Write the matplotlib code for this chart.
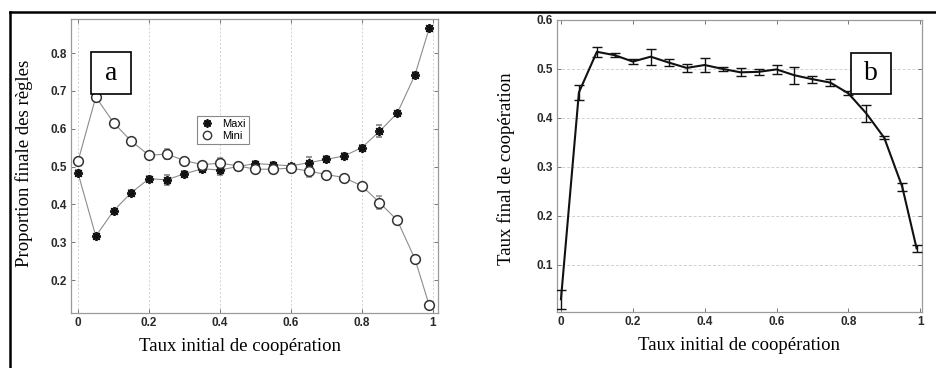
import numpy as np
import matplotlib
matplotlib.use('Agg')
import matplotlib.pyplot as plt
from matplotlib.lines import Line2D
from matplotlib.patches import Rectangle

# taux initial de cooperation
x = [0.0, 0.05, 0.1, 0.15, 0.2, 0.25, 0.3, 0.35, 0.4, 0.45, 0.5,
     0.55, 0.6, 0.65, 0.7, 0.75, 0.8, 0.85, 0.9, 0.95, 0.99]

# panel a
maxi = [0.482, 0.316, 0.383, 0.431, 0.468, 0.465, 0.481, 0.494, 0.491, 0.500, 0.508,
        0.505, 0.502, 0.510, 0.519, 0.528, 0.550, 0.593, 0.641, 0.742, 0.865]
maxi_err = [0.008, 0.005, 0.006, 0.006, 0.006, 0.013, 0.007, 0.008, 0.014, 0.006, 0.007,
            0.006, 0.006, 0.015, 0.008, 0.007, 0.006, 0.016, 0.007, 0.008, 0.006]
mini = [0.515, 0.684, 0.616, 0.567, 0.530, 0.533, 0.516, 0.505, 0.509, 0.502, 0.493,
        0.493, 0.496, 0.488, 0.479, 0.471, 0.449, 0.405, 0.358, 0.256, 0.134]
mini_err = [0.008, 0.005, 0.006, 0.006, 0.006, 0.013, 0.007, 0.008, 0.014, 0.006, 0.007,
            0.006, 0.006, 0.015, 0.008, 0.007, 0.006, 0.016, 0.007, 0.008, 0.006]

# panel b
coop = [0.029, 0.452, 0.535, 0.528, 0.515, 0.525, 0.513, 0.502, 0.508, 0.500, 0.493,
        0.494, 0.499, 0.487, 0.479, 0.472, 0.450, 0.409, 0.359, 0.259, 0.133]
coop_err = [0.020, 0.016, 0.010, 0.004, 0.005, 0.016, 0.008, 0.008, 0.015, 0.004, 0.008,
            0.006, 0.010, 0.017, 0.007, 0.007, 0.004, 0.018, 0.003, 0.008, 0.008]

xticks = [0, 0.2, 0.4, 0.6, 0.8, 1]
xticklabels = ['0', '0.2', '0.4', '0.6', '0.8', '1']

W, H = 937, 368
fig = plt.figure(figsize=(W / 100, H / 100), dpi=100)

serif = 'Liberation Serif'
tickfont = dict(family='Liberation Sans', weight='bold', size=8.5)


def style(ax):
	for s in ax.spines.values():
		s.set_color('#9a9a9a')
		s.set_linewidth(0.9)
	ax.tick_params(direction='in', length=3, width=0.7, color='#777777',
		top=True, right=True, labelcolor='#2a2a2a', pad=3)
	for lab in ax.get_xticklabels() + ax.get_yticklabels():
		lab.set_fontproperties(matplotlib.font_manager.FontProperties(**tickfont))


# ---- panel a
ax1 = fig.add_axes([71 / W, 1 - 313 / H, 367 / W, 294 / H])
ax1.errorbar(x, maxi, yerr=maxi_err, color='#8c8c8c', lw=0.8, ecolor='#8c8c8c',
	elinewidth=0.8, capsize=2, marker=(8, 2, 0), ms=6.5, mec='#111111', mew=1.3, zorder=3)
ax1.errorbar(x, mini, yerr=mini_err, color='#8c8c8c', lw=0.8, ecolor='#8c8c8c',
	elinewidth=0.8, capsize=2, marker='o', ms=7, mfc='white', mec='#333333', mew=1.1, zorder=3)
ax1.set_xlim(-0.02, 1.015)
ax1.set_ylim(0.113, 0.89)
ax1.set_xticks(xticks)
ax1.set_xticklabels(xticklabels)
ax1.set_yticks([0.2, 0.3, 0.4, 0.5, 0.6, 0.7, 0.8])
ax1.set_yticklabels(['0.2', '0.3', '0.4', '0.5', '0.6', '0.7', '0.8'])
ax1.xaxis.grid(True, color='#d0d0d0', linestyle=(0, (2, 2)), lw=0.7)
style(ax1)
ax1.set_xlabel('Taux initial de coopération', family=serif, fontsize=13.5)
ax1.xaxis.set_label_coords(0.46, -0.085)
ax1.set_ylabel('Proportion finale des règles', family=serif, fontsize=13.5)
ax1.yaxis.set_label_coords(-0.104, 0.51)

handles = [Line2D([], [], ls='none', marker=(8, 2, 0), ms=6, mec='#111111', mew=1.3),
	Line2D([], [], ls='none', marker='o', ms=6, mfc='white', mec='#333333', mew=1.0)]
leg = ax1.legend(handles, ['Maxi', 'Mini'], loc='upper left', bbox_to_anchor=(0.343, 0.67),
	fancybox=False, edgecolor='#888888', framealpha=1, prop=dict(family='Liberation Sans', size=8),
	handlelength=1.2, handletextpad=0.8, borderpad=0.3, labelspacing=0.15, borderaxespad=0)
leg.get_frame().set_linewidth(0.8)

# ---- panel b
ax2 = fig.add_axes([557 / W, 1 - 312 / H, 365 / W, 292 / H])
ax2.errorbar(x, coop, yerr=coop_err, color='#111111', lw=1.5, ecolor='#111111',
	elinewidth=1.0, capsize=3.5, capthick=1.0, zorder=3)
ax2.set_xlim(-0.011, 1.005)
ax2.set_ylim(0.003, 0.6)
ax2.set_xticks(xticks)
ax2.set_xticklabels(xticklabels)
ax2.set_yticks([0.1, 0.2, 0.3, 0.4, 0.5, 0.6])
ax2.set_yticklabels(['0.1', '0.2', '0.3', '0.4', '0.5', '0.6'])
ax2.yaxis.grid(True, color='#d0d0d0', linestyle=(0, (3, 2)), lw=0.7)
style(ax2)
ax2.set_xlabel('Taux initial de coopération', family=serif, fontsize=13.5)
ax2.xaxis.set_label_coords(0.5, -0.085)
ax2.set_ylabel('Taux final de coopération', family=serif, fontsize=13.5)
ax2.yaxis.set_label_coords(-0.115, 0.49)

# panel letters in boxes
for lx, ly, letter in [(90.7, 52, 'a'), (851, 53, 'b')]:
	fig.add_artist(Rectangle((lx / W, 1 - 94 / H), 40 / W, (94 - ly) / H, transform=fig.transFigure,
		facecolor='white', edgecolor='black', lw=1.2, zorder=5))
	fig.text((lx + 20) / W, 1 - (ly + 21) / H, letter, family=serif, fontsize=20,
		ha='center', va='center', zorder=6)

# outer frame lines
fig.add_artist(Line2D([10 / W, 1], [1 - 11.5 / H, 1 - 11.5 / H], transform=fig.transFigure,
	color='black', lw=1.8))
fig.add_artist(Line2D([10.5 / W, 10.5 / W], [0, 1 - 11.5 / H], transform=fig.transFigure,
	color='black', lw=1.8))

fig.savefig('out.png', dpi=100)
